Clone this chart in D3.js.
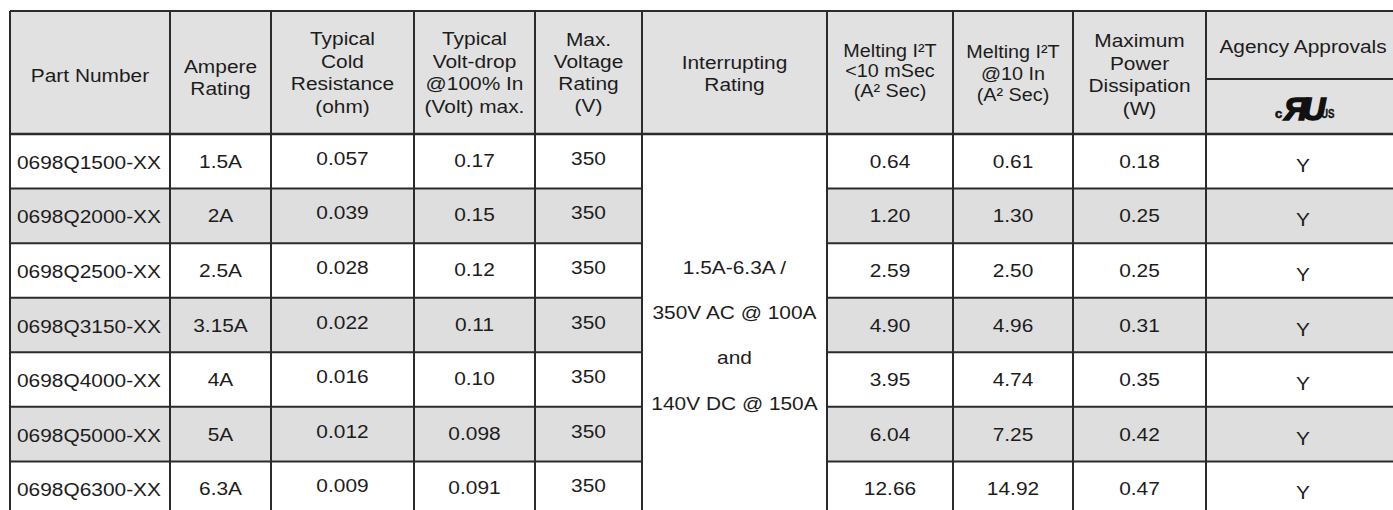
<!DOCTYPE html>
<html>
<head>
<meta charset="utf-8">
<script src="https://cdn.jsdelivr.net/npm/d3@7"></script>
<style>
  body { margin: 0; background: #fff; }
  svg { display: block; font-family: "Liberation Sans", Arial, Helvetica, sans-serif; }
</style>
</head>
<body>
<div id="chart"></div>
<script>
// table values
const partNumbers = ['0698Q1500-XX', '0698Q2000-XX', '0698Q2500-XX', '0698Q3150-XX', '0698Q4000-XX', '0698Q5000-XX', '0698Q6300-XX'];
const ampereRating = ['1.5A', '2A', '2.5A', '3.15A', '4A', '5A', '6.3A'];
const coldResistance = ['0.057', '0.039', '0.028', '0.022', '0.016', '0.012', '0.009'];
const voltDrop = ['0.17', '0.15', '0.12', '0.11', '0.10', '0.098', '0.091'];
const maxVoltage = ['350', '350', '350', '350', '350', '350', '350'];
const melting10ms = ['0.64', '1.20', '2.59', '4.90', '3.95', '6.04', '12.66'];
const melting10In = ['0.61', '1.30', '2.50', '4.96', '4.74', '7.25', '14.92'];
const maxPower = ['0.18', '0.25', '0.25', '0.31', '0.35', '0.42', '0.47'];
const agencyUL = ['Y', 'Y', 'Y', 'Y', 'Y', 'Y', 'Y'];
const interruptingLines = ['1.5A-6.3A /', '350V AC @ 100A', 'and', '140V DC @ 150A'];

const headers = [
  ['Part Number'],
  ['Ampere', 'Rating'],
  ['Typical', 'Cold', 'Resistance', '(ohm)'],
  ['Typical', 'Volt-drop', '@100% In', '(Volt) max.'],
  ['Max.', 'Voltage', 'Rating', '(V)'],
  ['Interrupting', 'Rating'],
  ['Melting I\u00B2T', '<10 mSec', '(A\u00B2  Sec)'],
  ['Melting I\u00B2T', '@10 In', '(A\u00B2  Sec)'],
  ['Maximum', 'Power', 'Dissipation', '(W)'],
  ['Agency Approvals']
];

// column -> values (null = merged interrupting column)
const columns = [partNumbers, ampereRating, coldResistance, voltDrop, maxVoltage, null,
  melting10ms, melting10In, maxPower, agencyUL];

// layout
const width = 1393, height = 510;
const colEdges = [10, 170, 271, 414, 535, 642, 827, 953, 1073, 1206, 1400];
const tableTop = 11, headerBottom = 134, subHeaderLine = 79, tableBottom = 516;
const stretch = 1.13;   // scanned text is a bit wide
const ink = '#1c1c1c', rule = '#2b2b2b';
const headGray = '#e1e1e1', rowGray = '#dedede';

const svg = d3.select('#chart').append('svg')
  .attr('width', width)
  .attr('height', height);

const y = d3.scaleBand()
  .domain(partNumbers)
  .range([headerBottom, tableBottom]);

const colX = i => colEdges[i];
const colMid = i => (colEdges[i] + colEdges[i + 1]) / 2;

function label(g, txt, x, yy, opts = {}) {
  return g.append('text')
    .attr('transform', `translate(${x},${yy}) scale(${stretch},1)`)
    .attr('text-anchor', opts.anchor || 'middle')
    .attr('dominant-baseline', 'central')
    .attr('font-size', opts.size || 18.5)
    .attr('fill', ink)
    .text(txt);
}

// header background
svg.append('rect')
  .attr('x', colX(0)).attr('y', tableTop)
  .attr('width', colX(10) - colX(0)).attr('height', headerBottom - tableTop)
  .attr('fill', headGray);

// body row stripes
svg.append('g')
  .selectAll('rect')
  .data(partNumbers)
  .join('rect')
  .attr('x', colX(0))
  .attr('y', d => y(d))
  .attr('width', colX(10) - colX(0))
  .attr('height', y.bandwidth())
  .attr('fill', (d, i) => i % 2 ? rowGray : '#fff');

// merged interrupting cell stays white
svg.append('rect')
  .attr('x', colX(5)).attr('y', headerBottom)
  .attr('width', colX(6) - colX(5)).attr('height', tableBottom - headerBottom)
  .attr('fill', '#fff');

// header text
const headG = svg.append('g');
const headShift = [3, 5, 0, 0, 0, 1, -2, 1, 2, 0];
const headSpacing = [22, 21.5, 22.5, 22.5, 22, 22, 20, 21.5, 22.5, 22];
headers.forEach((lines, i) => {
  const sp = headSpacing[i];
  const cy = i === 9 ? (tableTop + subHeaderLine) / 2 + 1 : (tableTop + headerBottom) / 2 + headShift[i];
  lines.forEach((ln, k) => {
    label(headG, ln, colMid(i), cy + (k - (lines.length - 1) / 2) * sp, { size: i === 6 || i === 7 ? 17.5 : 18.5 });
  });
});

// UL recognized mark
const ul = svg.append('g').attr('fill', '#111').attr('stroke', '#111');
const ulX = colMid(9) - 5, ulY = 108;
ul.append('text').attr('x', ulX - 23).attr('y', ulY + 10)
  .attr('font-size', 13).attr('font-weight', 'bold').attr('stroke-width', 0.6).text('c');
ul.append('text').attr('x', ulX - 14).attr('y', ulY + 12)
  .attr('font-size', 32).attr('font-weight', 'bold').attr('font-style', 'italic')
  .attr('stroke-width', 1.6)
  .attr('letter-spacing', -5).text('\u042FU');
ul.append('text')
  .attr('transform', `translate(${ulX + 23},${ulY + 10}) scale(0.75,1)`)
  .attr('font-size', 13).attr('font-weight', 'bold').attr('stroke-width', 0.4)
  .text('US');

// body cells
const bodyG = svg.append('g');
const cellShift = [1, 0, -3, -1, -3, 0, 0, 0, 0, 4];
columns.forEach((vals, c) => {
  if (!vals) return;
  vals.forEach((v, r) => {
    const yy = y(partNumbers[r]) + y.bandwidth() / 2 + cellShift[c];
    if (c === 0) label(bodyG, v, colX(0) + 7, yy, { anchor: 'start' });
    else label(bodyG, v, colMid(c), yy);
  });
});

// interrupting rating text in merged cell
const intY = d3.scalePoint()
  .domain(interruptingLines)
  .range([267, 403]);
interruptingLines.forEach(ln => label(bodyG, ln, colMid(5), intY(ln)));

// grid rules
const rules = svg.append('g')
  .attr('stroke', rule)
  .attr('stroke-width', 2)
  .attr('fill', 'none');

// verticals
rules.selectAll('line.v')
  .data(colEdges.slice(0, 10))
  .join('line')
  .attr('class', 'v')
  .attr('x1', d => d).attr('x2', d => d)
  .attr('y1', tableTop).attr('y2', tableBottom);

// horizontals: top, header bottom, then row lines (skip merged column)
rules.append('line')
  .attr('x1', colX(0)).attr('x2', colX(10))
  .attr('y1', tableTop).attr('y2', tableTop);
rules.append('line')
  .attr('x1', colX(0)).attr('x2', colX(10))
  .attr('y1', headerBottom).attr('y2', headerBottom)
  .attr('stroke-width', 2.5);
rules.append('line')
  .attr('x1', colX(9)).attr('x2', colX(10))
  .attr('y1', subHeaderLine).attr('y2', subHeaderLine);

const rowLines = partNumbers.slice(1).map(d => y(d));
[[colX(0), colX(5)], [colX(6), colX(10)]].forEach(([x1, x2]) => {
  rules.append('g')
    .selectAll('line')
    .data(rowLines)
    .join('line')
    .attr('x1', x1).attr('x2', x2)
    .attr('y1', d => d).attr('y2', d => d);
});
</script>
</body>
</html>
